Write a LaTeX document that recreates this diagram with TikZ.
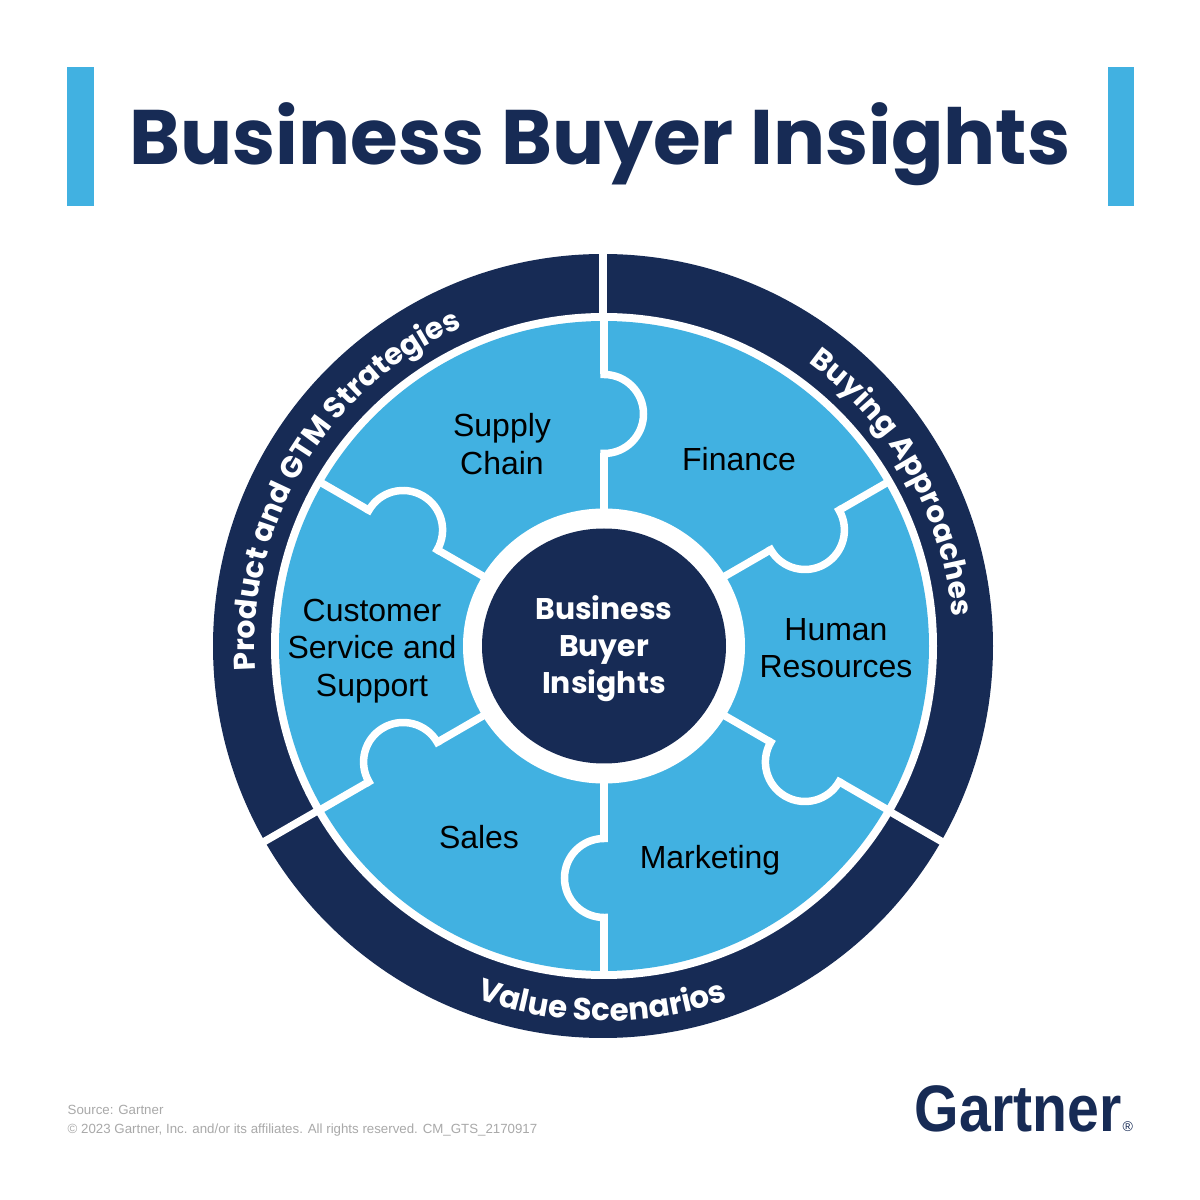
\documentclass[tikz,border=0pt]{standalone}
\usepackage{fontspec}
\usepackage{xcolor}
\usetikzlibrary{backgrounds, decorations.text}
\setmainfont{Liberation Sans}
\newfontfamily\headfont{Poppins}
\newfontfamily\logofont[FakeStretch=0.87]{Liberation Sans}
\definecolor{navyfill}{HTML}{172B55}
\definecolor{skyfill}{HTML}{41B1E1}
\definecolor{notegray}{HTML}{A9A9A9}

\begin{document}
\begin{tikzpicture}[background rectangle/.style={fill=white}, show background rectangle, inner frame sep=0pt]
\useasboundingbox (0,0) rectangle (12,12);
\coordinate (C) at (6.04,5.54);
\coordinate (R) at (6.03,5.54);

% title and side bars
\fill[skyfill] (0.67,9.94) rectangle (0.94,11.33);
\fill[skyfill] (11.08,9.94) rectangle (11.34,11.33);
\node[navyfill, anchor=base, inner sep=0pt, font=\headfont\bfseries\fontsize{22}{26}\selectfont] (title) at (6.00,10.35) {Business Buyer Insights};

% wheel
\fill[navyfill] (R) ellipse (3.9 and 3.92);
\fill[white] (C) circle (3.33);
\fill[skyfill] (C) circle (3.25);

% gaps in the ring
\begin{scope}[shift={(R)}, every path/.style={draw=white, line width=0.075cm}]
  \foreach \a in {90,210,330} {
    \path (\a:3.3) -- (\a:3.95);
  }
\end{scope}

% seams with their tabs
\foreach \a in {90,30,-30,-90,-150,150} {
\begin{scope}[shift={(C)}, rotate=\a, every path/.style={draw=white, line width=0.075cm}]
  \path (1.3,0) -- (1.925,0);
  \path (1.925,0.0375) -- (1.925,0) arc[start angle=180, end angle=360, radius=0.395] -- (2.715,0.0375);
  \path (2.715,0) -- (3.28,0);
\end{scope}
}

% hub
\fill[white] (C) ellipse (1.41 and 1.375);
\fill[navyfill] (C) ellipse (1.22 and 1.175);

% ring labels
\begin{scope}[shift={(C)}]
  \path[decorate, decoration={text along path, text align=center,
    text={|\headfont\bfseries\fontsize{8.45}{10}\selectfont\color{white}|Buying Approaches}}]
    (89.5:3.49) arc[start angle=89.5, end angle=-30.5, radius=3.49];
  \path[decorate, decoration={text along path, text align=center,
    text={|\headfont\bfseries\fontsize{8.5}{10}\selectfont\color{white}|Product and GTM Strategies}}]
    (209:3.49) arc[start angle=209, end angle=89, radius=3.49];
  \path[decorate, decoration={text along path, text align=center,
    text={|\headfont\bfseries\fontsize{8.8}{10}\selectfont\color{white}|Value Scenarios}}]
    (209.7:3.75) arc[start angle=209.7, end angle=329.7, radius=3.75];
\end{scope}

% piece labels
\begin{scope}[every node/.style={align=center, inner sep=0pt, text=black, font=\fontsize{9.1}{10.6}\selectfont}]
  \node (chain) at (5.02,7.56) {Supply\\Chain};
  \node (finance) at (7.39,7.41) {Finance};
  \node (hr) at (8.36,5.52) {Human\\Resources};
  \node (marketing) at (7.10,3.40) {Marketing};
  \node (sales) at (4.79,3.63) {Sales};
  \node (service) at (3.72,5.49) {Customer\\Service and\\Support};
\end{scope}
\node[align=center, inner sep=0pt, text=white, font=\headfont\bfseries\fontsize{8.5}{10.55}\selectfont] (hub) at (6.04,5.51) {Business\\Buyer\\Insights};

% footer
\begin{scope}[every node/.style={anchor=base west, inner sep=0pt, text=notegray, font=\fontsize{3.78}{4}\selectfont}]
  \node (source) at (0.67,0.85) {Source: Gartner};
  \node (rights) at (0.67,0.67) {© 2023 Gartner, Inc. and/or its affiliates. All rights reserved. CM\_GTS\_2170917};
\end{scope}
\node[anchor=base east, inner sep=0pt, text=navyfill, font=\logofont\bfseries\fontsize{18.7}{20}\selectfont] (logo) at (11.22,0.68) {Gartner};
\node[anchor=base west, inner sep=0pt, text=navyfill, font=\fontsize{4}{4}\selectfont] (mark) at (11.22,0.68) {®};
\end{tikzpicture}
\end{document}
